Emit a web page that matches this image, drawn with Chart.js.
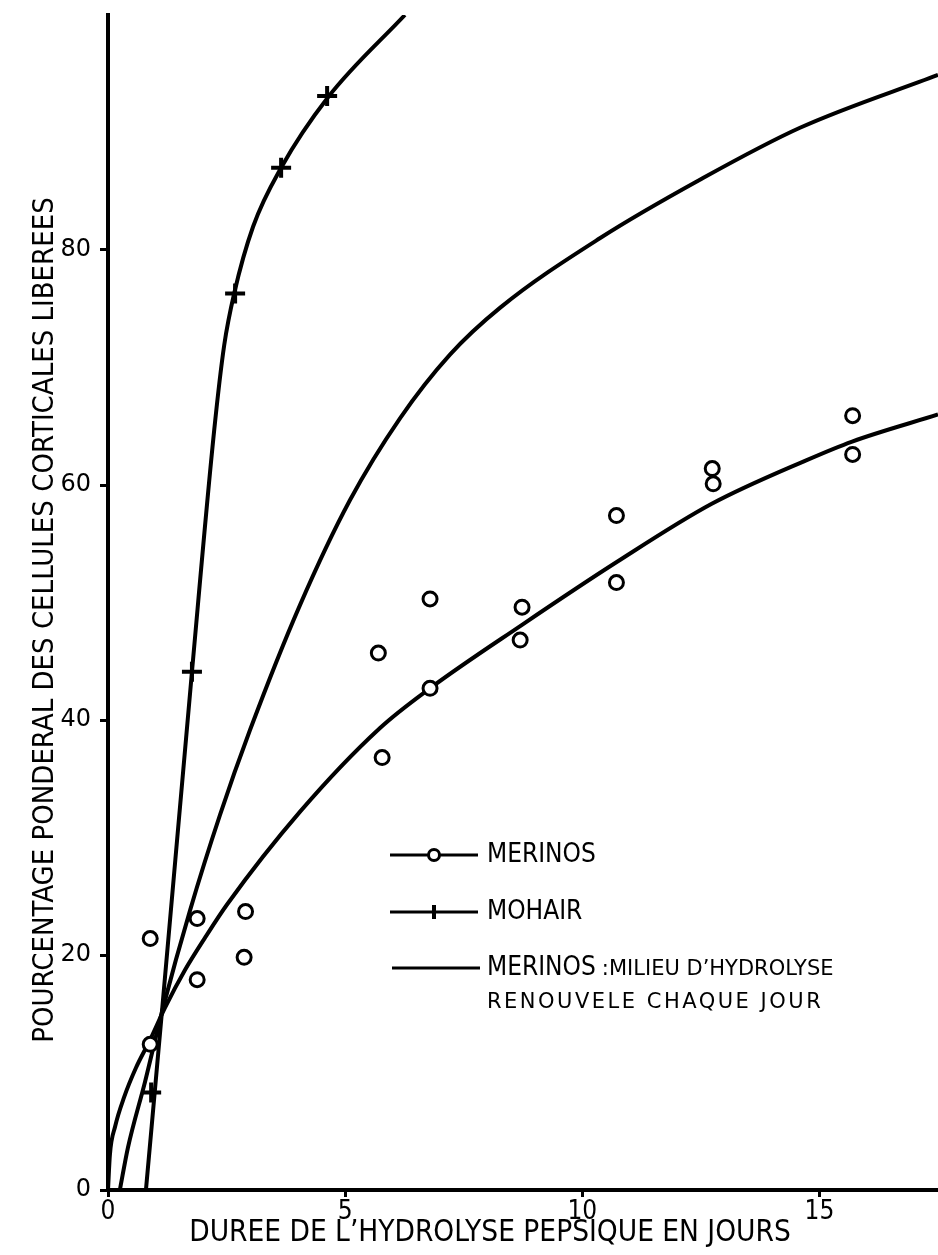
<!DOCTYPE html>
<html>
<head>
<meta charset="utf-8">
<script src="https://cdn.jsdelivr.net/npm/chart.js@4.4.1/dist/chart.umd.min.js"></script>
<style>
  html, body { margin: 0; padding: 0; background: #fff; overflow: hidden; }
  #wrap { width: 938px; height: 1255px; position: relative; }
  #hydrolyseChart { display: block; }
</style>
</head>
<body>
<div id="wrap"><canvas id="hydrolyseChart"></canvas></div>
<script>
// Ticks
const xTicks = [0, 5, 10, 15];
const yTicks = [0, 20, 40, 60, 80];

// MERINOS measured points (open circles)
const merinosDays = [0.89, 0.89, 1.88, 1.88, 2.9, 2.87, 5.7, 5.78, 6.79, 6.79, 8.73, 8.69, 10.72, 10.72, 12.74, 12.76, 15.7, 15.7];
const merinosPct  = [21.4, 12.4, 23.1, 17.9, 23.7, 19.8, 45.7, 36.8, 50.3, 42.7, 49.6, 46.8, 57.4, 51.7, 61.4, 60.1, 65.9, 62.6];

// MOHAIR measured points (crosses)
const mohairDays = [0.91, 1.77, 2.68, 3.65, 4.62];
const mohairPct  = [8.3, 44.1, 76.3, 87.0, 93.1];

// Curves drawn through the data
const merinosFitDays = [0, 0.04, 0.15, 0.34, 0.59, 0.89, 1.2, 1.62, 2.05, 2.51, 4.05, 5.73, 6.79, 8.73, 10.71, 12.73, 14.72, 15.69, 17.5];
const merinosFitPct  = [0, 3.0, 5.4, 7.9, 10.4, 12.8, 15.5, 18.7, 21.5, 24.3, 32.2, 39.3, 42.7, 48.1, 53.4, 58.4, 62.1, 63.7, 66.0];

const mohairFitDays = [0.8, 1.16, 1.77, 2.24, 2.45, 2.66, 3.06, 3.65, 4.64, 6.26];
const mohairFitPct  = [0, 16.2, 44.1, 64.7, 71.9, 76.3, 82.0, 87.0, 93.0, 100];

// MERINOS, hydrolysis medium renewed every day
const renewDays = [0.25, 0.42, 0.78, 1.16, 1.73, 2.36, 2.99, 4.05, 5.1, 6.16, 7.21, 8.27, 10.37, 12.49, 14.59, 17.5];
const renewPct  = [0, 3.6, 9.2, 15.5, 23.8, 31.9, 39.1, 49.8, 58.7, 65.7, 71.1, 75.1, 81.0, 86.0, 90.4, 94.9];

const toPoints = (xs, ys) => xs.map((x, i) => ({ x: x, y: ys[i] }));

const INK = '#000';
const LETTERING = '"DejaVu Sans Condensed", "Liberation Sans Narrow", sans-serif';

// axis titles and the hand-lettered key
const lettering = {
    id: 'lettering',
    afterDraw(chart) {
        const ctx = chart.ctx;
        ctx.save();
        ctx.fillStyle = INK;
        ctx.textAlign = 'center';
        ctx.textBaseline = 'middle';
        ctx.font = '29.5px ' + LETTERING;
        ctx.fillText('DUREE DE L\u2019HYDROLYSE PEPSIQUE EN JOURS', 490, 1233);

        ctx.save();
        ctx.translate(45, 620);
        ctx.rotate(-Math.PI / 2);
        ctx.font = '29px ' + LETTERING;
        ctx.fillText('POURCENTAGE PONDERAL DES CELLULES CORTICALES LIBEREES', 0, 0);
        ctx.restore();

        // key
        const x0 = 390, x1 = 478, xm = (x0 + x1) / 2;
        ctx.textAlign = 'left';
        ctx.strokeStyle = INK;
        ctx.lineWidth = 3;

        ctx.beginPath(); ctx.moveTo(x0, 855); ctx.lineTo(x1, 855); ctx.stroke();
        ctx.beginPath(); ctx.arc(xm, 855, 5.5, 0, Math.PI * 2);
        ctx.fillStyle = '#fff'; ctx.fill(); ctx.stroke();
        ctx.fillStyle = INK;
        ctx.font = '26px ' + LETTERING;
        ctx.fillText('MERINOS', 487, 855);

        ctx.beginPath(); ctx.moveTo(x0, 912); ctx.lineTo(x1, 912); ctx.stroke();
        ctx.lineWidth = 4;
        ctx.beginPath(); ctx.moveTo(xm, 905); ctx.lineTo(xm, 919); ctx.stroke();
        ctx.lineWidth = 3;
        ctx.fillText('MOHAIR', 487, 912);

        ctx.beginPath(); ctx.moveTo(x0 + 2, 968); ctx.lineTo(x1 + 2, 968); ctx.stroke();
        ctx.fillText('MERINOS', 487, 968);
        const w = ctx.measureText('MERINOS').width;
        ctx.font = '21px "DejaVu Sans", sans-serif';
        ctx.fillText(':MILIEU D\u2019HYDROLYSE', 487 + w + 6, 970);
        ctx.letterSpacing = '2.5px';
        ctx.fillText('RENOUVELE CHAQUE JOUR', 487, 1003);
        ctx.restore();
    }
};

const ctx = document.getElementById('hydrolyseChart').getContext('2d');
new Chart(ctx, {
    type: 'scatter',
    data: {
        datasets: [
            {
                label: 'MERINOS',
                data: toPoints(merinosDays, merinosPct),
                showLine: false,
                pointStyle: 'circle',
                pointRadius: 7,
                pointBorderWidth: 3,
                pointBackgroundColor: '#fff',
                pointBorderColor: INK
            },
            {
                label: 'MOHAIR',
                data: toPoints(mohairDays, mohairPct),
                showLine: false,
                pointStyle: 'cross',
                pointRadius: 10,
                pointBorderWidth: 4,
                pointBorderColor: INK
            },
            {
                label: 'MERINOS courbe',
                data: toPoints(merinosFitDays, merinosFitPct),
                showLine: true,
                pointRadius: 0,
                borderColor: INK,
                borderWidth: 4,
                cubicInterpolationMode: 'monotone'
            },
            {
                label: 'MOHAIR courbe',
                data: toPoints(mohairFitDays, mohairFitPct),
                showLine: true,
                pointRadius: 0,
                borderColor: INK,
                borderWidth: 4,
                cubicInterpolationMode: 'monotone'
            },
            {
                label: 'MERINOS : milieu renouvele',
                data: toPoints(renewDays, renewPct),
                showLine: true,
                pointRadius: 0,
                borderColor: INK,
                borderWidth: 4,
                cubicInterpolationMode: 'monotone'
            }
        ]
    },
    options: {
        responsive: true,
        maintainAspectRatio: false,
        animation: false,
        layout: { autoPadding: false, padding: { top: 15, right: 0, left: 0, bottom: 0 } },
        plugins: {
            legend: { display: false },
            tooltip: { enabled: false }
        },
        scales: {
            x: {
                type: 'linear',
                min: 0,
                max: 17.5,
                afterBuildTicks: scale => { scale.ticks = xTicks.map(v => ({ value: v })); },
                afterFit: scale => {
                    scale.height = 65;
                    scale.paddingLeft = 0;
                    scale.paddingRight = 0;
                },
                border: { display: true, color: INK, width: 4 },
                grid: { drawOnChartArea: false, drawTicks: true, tickLength: 7, color: INK, lineWidth: 3 },
                ticks: {
                    color: INK,
                    padding: 0,
                    maxRotation: 0,
                    font: { family: LETTERING, size: 26 }
                }
            },
            y: {
                type: 'linear',
                min: 0,
                max: 100,
                afterBuildTicks: scale => { scale.ticks = yTicks.map(v => ({ value: v })); },
                afterFit: scale => {
                    scale.width = 108;
                    scale.paddingTop = 0;
                    scale.paddingBottom = 0;
                },
                border: { display: true, color: INK, width: 4 },
                grid: { drawOnChartArea: false, drawTicks: true, tickLength: 8, color: INK, lineWidth: 3 },
                ticks: {
                    color: INK,
                    padding: 9,
                    font: { family: '"DejaVu Sans", sans-serif', size: 24 }
                }
            }
        }
    },
    plugins: [lettering]
});
</script>
</body>
</html>
